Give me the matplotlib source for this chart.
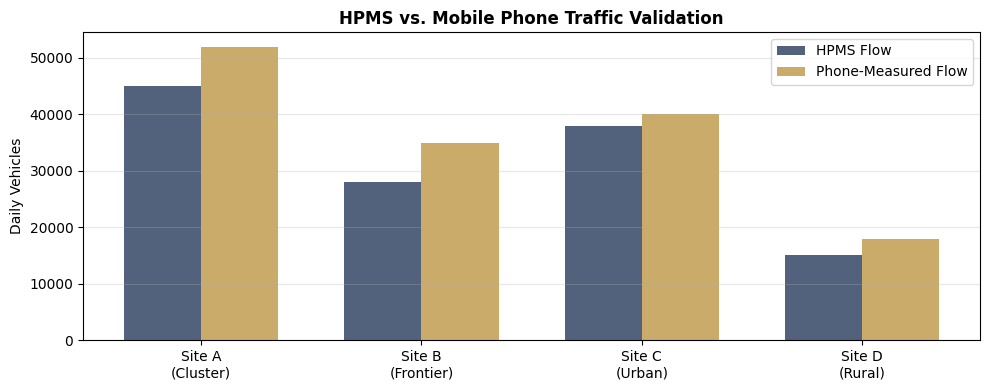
import numpy as np
import matplotlib.pyplot as plt

sites = ['Site A\n(Cluster)', 'Site B\n(Frontier)', 'Site C\n(Urban)', 'Site D\n(Rural)']
hpms_flow = [45000, 28000, 38000, 15000]
phone_flow = [52000, 35000, 40000, 18000]

x = np.arange(len(sites))
width = 0.35

fig, ax = plt.subplots(figsize=(9.89, 3.9), dpi=100)
ax.bar(x - width / 2, hpms_flow, width, label='HPMS Flow', color='#52617c')
ax.bar(x + width / 2, phone_flow, width, label='Phone-Measured Flow', color='#cbab6a')
ax.set_xticks(x)
ax.set_xticklabels(sites)
ax.set_ylabel('Daily Vehicles')
ax.set_title('HPMS vs. Mobile Phone Traffic Validation', fontweight='bold')
ax.legend()
ax.grid(True, axis='y', alpha=0.3)
fig.subplots_adjust(left=0.084, right=0.991, top=0.918, bottom=0.128)
plt.savefig('out.png')
